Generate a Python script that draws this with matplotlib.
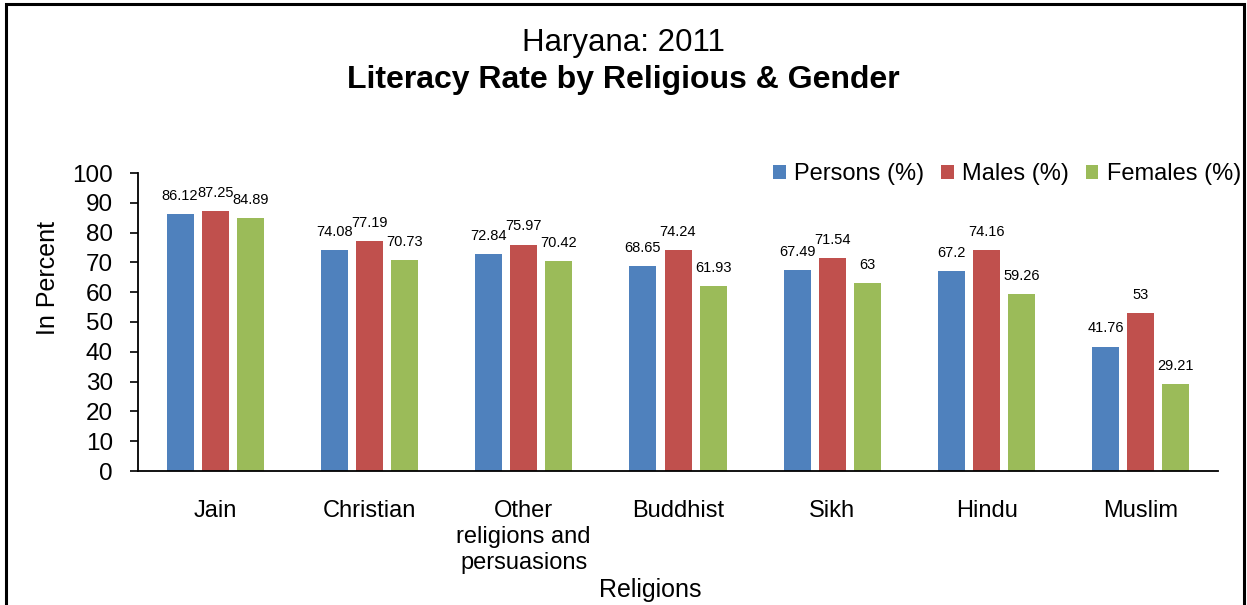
import numpy as np
import matplotlib.pyplot as plt
from matplotlib.patches import Rectangle

plt.rcParams['font.family'] = ['Liberation Sans', 'DejaVu Sans']

religions = ["Jain", "Christian", "Other\nreligions and\npersuasions", "Buddhist",
             "Sikh", "Hindu", "Muslim"]
persons = [86.12, 74.08, 72.84, 68.65, 67.49, 67.2, 41.76]
males = [87.25, 77.19, 75.97, 74.24, 71.54, 74.16, 53]
females = [84.89, 70.73, 70.42, 61.93, 63, 59.26, 29.21]

series = [("Persons (%)", persons, "#4F81BD"),
          ("Males (%)", males, "#C0504D"),
          ("Females (%)", females, "#9BBB59")]

fig = plt.figure(figsize=(12.47, 6.05), dpi=100)
ax = fig.add_axes([138 / 1247, 1 - 471 / 605, 1080 / 1247, 298 / 605])

x = np.arange(len(religions))
width = 0.175
step = 0.227
for i, (name, vals, col) in enumerate(series):
    pos = x + (i - 1) * step
    ax.bar(pos, vals, width, color=col, label=name)
    for p, v in zip(pos, vals):
        ax.annotate(f"{v:g}", (p, v), xytext=(0, 8), textcoords="offset points",
                    ha="center", va="bottom", fontsize=10.5)

ax.set_xlim(-0.5, len(religions) - 0.5)
ax.set_ylim(0, 100)
ax.set_yticks(range(0, 101, 10))
ax.tick_params(axis='y', labelsize=17.5, length=6, width=1.2, direction='out', pad=12)
ax.tick_params(axis='x', length=0, labelsize=17, pad=21)
ax.set_xticks(x)
ax.set_xticklabels(religions, linespacing=1.22, va='top')
for s in ["top", "right"]:
    ax.spines[s].set_visible(False)
ax.spines["left"].set_linewidth(1.3)
ax.spines["bottom"].set_linewidth(1.3)

fig.text(48 / 1247, 1 - 278 / 605, "In Percent", rotation=90, ha="center",
         va="center", fontsize=18)
fig.text(650 / 1247, 1 - 590 / 605, "Religions", ha="center", va="center", fontsize=18)

fig.text(0.5, 1 - 43 / 605, "Haryana: 2011", ha="center", va="center", fontsize=22.5)
fig.text(0.5, 1 - 80 / 605, "Literacy Rate by Religious & Gender", ha="center",
         va="center", fontsize=23, fontweight="bold")

ax.legend(loc="upper right", bbox_to_anchor=(1241 / 1247, 1 - 163 / 605),
          bbox_transform=fig.transFigure, ncol=3, frameon=False, fontsize=17,
          handlelength=0.55, handleheight=0.55, handletextpad=0.35, columnspacing=0.7,
          borderaxespad=0, borderpad=0)

fig.patches.append(Rectangle((6 / 1247, -0.01), 1238 / 1247, 1 - 4 / 605 + 0.01,
                             transform=fig.transFigure, fill=False,
                             edgecolor="black", linewidth=2.2))

fig.savefig("out.png", dpi=100)
